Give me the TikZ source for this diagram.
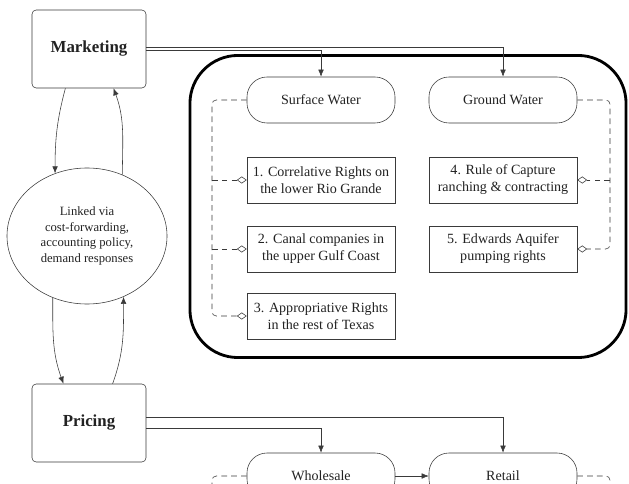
\documentclass[tikz,border=0pt]{standalone}
\usepackage{fontspec}
\setmainfont{Liberation Serif}
\usepackage{tikz}
\usetikzlibrary{arrows.meta,positioning,shapes.geometric}
\definecolor{wline}{HTML}{3A3A3A}
\definecolor{wtext}{HTML}{222222}

\begin{document}
\begin{tikzpicture}[x=0.025cm,y=-0.025cm,>={Latex[length=5pt,width=4pt]},
  mainbox/.style={draw=wline,rounded corners=3pt,minimum width=2.85cm,minimum height=1.95cm,font=\large\bfseries,text=wtext},
  waterbox/.style={draw=wline,rounded corners=0.5cm,minimum width=3.7cm,minimum height=1.15cm,text=wtext},
  rightbox/.style={draw=wline,align=center,minimum width=3.7cm,minimum height=1.15cm,text=wtext},
  dashline/.style={draw=wline,dashed,dash pattern=on 4pt off 3pt},
  opentip/.style={-{Diamond[open,length=7pt,width=5pt]}}]
  \useasboundingbox (0,0) rectangle (629,484);
  \clip (0,0) rectangle (629,484);
  \node[mainbox] (mkt) at (89,49) {Marketing};
  \node[mainbox] (prc) at (89,423) {Pricing};
  \node[draw=wline,ellipse,minimum width=4cm,minimum height=3.4cm,align=center,text=wtext,font=\small] (link) at (87,236) {Linked via\\cost-forwarding,\\accounting policy,\\demand responses};
  \node[draw=black,line width=2pt,rounded corners=1.2cm,minimum width=10.9cm,minimum height=7.55cm] (rights) at (408,206.5) {};
  \node[waterbox] (sw) at (321,100) {Surface Water};
  \node[waterbox] (gw) at (503,100) {Ground Water};
  \node[rightbox] (r1) at (321,180) {1. Correlative Rights on\\the lower Rio Grande};
  \node[rightbox] (r2) at (321,249) {2. Canal companies in\\the upper Gulf Coast};
  \node[rightbox] (r3) at (321,316) {3. Appropriative Rights\\in the rest of Texas};
  \node[rightbox] (r4) at (503,180) {4. Rule of Capture\\ranching \& contracting};
  \node[rightbox] (r5) at (503,249) {5. Edwards Aquifer\\pumping rights};
  \node[waterbox] (ws) at (321,476) {Wholesale};
  \node[waterbox] (rt) at (503,476) {Retail};
  % marketing / pricing feed the two markets
  \draw[wline,->] ([yshift=1pt]mkt.east) -| (gw.north);
  \draw[wline,->] ([yshift=-1pt]mkt.east) -| (sw.north);
  \draw[wline,->] ([yshift=4pt]prc.east) -| (rt.north);
  \draw[wline,->] ([yshift=-4pt]prc.east) -| (ws.north);
  \draw[wline,->] (ws.east) -- (rt.west);
  % links to the ellipse
  \draw[wline,->] (mkt.-121) to[out=-105,in=90] (link.117);
  \draw[wline,->] (link.60) to[out=90,in=-70] (mkt.-58);
  \draw[wline,->] (link.-119) to[out=-90,in=110] (prc.123);
  \draw[wline,->] (prc.59) to[out=70,in=-90] (link.-59);
  % dashed rights trees
  \coordinate (ltop) at (212,100);
  \coordinate (rtop) at (610,100);
  \draw[dashline,opentip,rounded corners=3pt] (sw.west) -- (ltop) |- (r3.west);
  \draw[dashline,opentip] (ltop |- r1.west) -- (r1.west);
  \draw[dashline,opentip] (ltop |- r2.west) -- (r2.west);
  \draw[dashline,opentip,rounded corners=3pt] (gw.east) -- (rtop) |- (r5.east);
  \draw[dashline,opentip] (rtop |- r4.east) -- (r4.east);
  \coordinate (wsdown) at (212,520);
  \coordinate (rtdown) at (610,520);
  \draw[dashline,rounded corners=3pt] (ws.west) -| (wsdown);
  \draw[dashline,rounded corners=3pt] (rt.east) -| (rtdown);
\end{tikzpicture}
\end{document}
